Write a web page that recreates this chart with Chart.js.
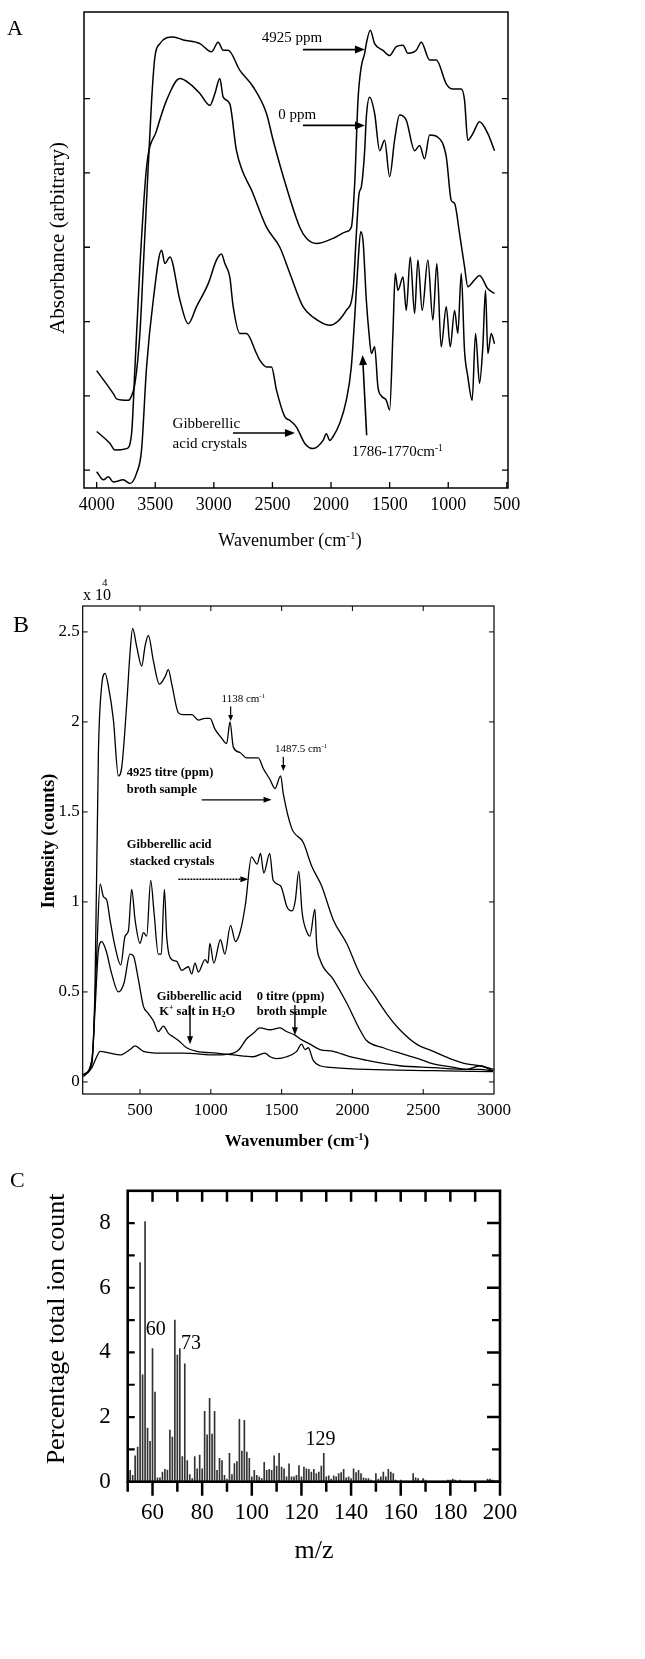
<!DOCTYPE html>
<html>
<head>
<meta charset="utf-8">
<script src="https://cdn.jsdelivr.net/npm/chart.js@4.4.1/dist/chart.umd.min.js"></script>
<style>
  html, body { margin: 0; padding: 0; background: #fff; }
  #page { position: relative; width: 645px; height: 1659px; overflow: hidden; }
  .panel { position: absolute; left: 0; width: 645px; }
</style>
</head>
<body>
<div id="page">
  <div class="panel" style="top:0"><canvas id="chartA" width="645" height="560"></canvas></div>
  <div class="panel" style="top:560px"><canvas id="chartB" width="645" height="600"></canvas></div>
  <div class="panel" style="top:1160px"><canvas id="chartC" width="645" height="499"></canvas></div>
</div>
<script>
const SERIF = '"Liberation Serif", "Times New Roman", Times, serif'
Chart.defaults.font.family = SERIF
Chart.defaults.color = "#000"

// ---- Panel A: IR absorbance ----
const A_X_TICKS = [4000, 3500, 3000, 2500, 2000, 1500, 1000, 500]
const A_Y_TICKS = [0, 1, 2, 3, 4, 5]

const A_WN_4925 = [4000, 3858, 3830, 3730, 3715, 3673, 3631, 3602, 3574, 3531, 3503, 3460, 3347, 3261, 3119, 3020, 2963, 2920, 2878, 2778, 2665, 2551, 2494, 2381, 2267, 2210, 2125, 1983, 1870, 1827, 1798, 1770, 1742, 1713, 1699, 1665, 1628, 1557, 1500, 1443, 1386, 1344, 1273, 1230, 1159, 1102, 1017, 960, 889, 861, 833, 790, 733, 662, 605]
const A_ABS_4925 = [1.34, 1.03, 0.96, 0.94, 0.96, 1.17, 1.84, 2.74, 3.63, 4.98, 5.56, 5.74, 5.83, 5.79, 5.74, 5.63, 5.76, 5.65, 5.65, 5.38, 5.16, 4.80, 4.44, 3.81, 3.27, 3.12, 3.05, 3.12, 3.21, 3.27, 3.86, 4.98, 5.43, 5.61, 5.74, 5.92, 5.74, 5.65, 5.58, 5.70, 5.72, 5.61, 5.65, 5.76, 5.52, 5.52, 5.20, 5.13, 5.13, 4.98, 4.44, 4.53, 4.69, 4.53, 4.30]

const A_WN_0 = [4000, 3886, 3844, 3744, 3702, 3673, 3631, 3574, 3489, 3403, 3290, 3205, 3119, 3034, 2991, 2949, 2920, 2864, 2807, 2665, 2551, 2437, 2352, 2239, 2153, 2011, 1870, 1812, 1784, 1761, 1742, 1713, 1699, 1671, 1628, 1585, 1543, 1500, 1458, 1415, 1358, 1287, 1244, 1202, 1159, 1088, 1017, 974, 946, 903, 861, 833, 776, 733, 662, 605]
const A_ABS_0 = [0.52, 0.36, 0.27, 0.29, 0.49, 1.39, 2.74, 4.08, 4.57, 4.98, 5.27, 5.20, 5.07, 4.91, 5.07, 5.27, 5.02, 4.93, 4.30, 3.72, 3.27, 3.00, 2.65, 2.20, 2.06, 1.95, 2.15, 2.42, 3.18, 3.72, 3.81, 4.30, 4.75, 5.02, 4.80, 4.30, 4.44, 3.95, 4.44, 4.78, 4.71, 4.30, 4.37, 4.19, 4.51, 4.48, 4.22, 3.63, 3.59, 3.18, 2.74, 2.47, 2.56, 2.62, 2.44, 2.38]

const A_WN_GA = [4000, 3943, 3900, 3858, 3773, 3716, 3659, 3617, 3574, 3517, 3446, 3418, 3375, 3290, 3219, 3148, 3048, 2977, 2935, 2906, 2864, 2835, 2778, 2722, 2636, 2608, 2551, 2508, 2466, 2395, 2352, 2295, 2224, 2153, 2068, 2040, 2011, 1983, 1926, 1870, 1827, 1798, 1770, 1747, 1727, 1699, 1676, 1656, 1628, 1600, 1571, 1528, 1500, 1472, 1452, 1429, 1386, 1358, 1324, 1287, 1259, 1222, 1174, 1131, 1097, 1060, 1017, 983, 946, 918, 889, 861, 833, 796, 767, 733, 705, 682, 662, 633, 605]
const A_ABS_GA = [-0.02, -0.13, -0.09, -0.16, -0.13, -0.18, -0.04, 0.27, 1.39, 2.29, 2.96, 2.78, 2.87, 2.29, 1.97, 2.20, 2.51, 2.83, 2.91, 2.78, 2.60, 2.20, 1.84, 1.84, 1.57, 1.48, 1.39, 1.39, 1.08, 0.72, 0.67, 0.58, 0.36, 0.29, 0.40, 0.49, 0.40, 0.45, 0.63, 0.94, 1.39, 2.06, 2.78, 3.21, 3.09, 2.29, 1.84, 1.57, 1.66, 1.12, 1.00, 0.94, 0.81, 1.84, 2.65, 2.42, 2.60, 2.15, 2.87, 2.11, 2.83, 2.15, 2.83, 2.02, 2.78, 1.66, 2.20, 1.66, 2.15, 1.84, 2.65, 1.61, 1.26, 0.94, 1.84, 1.17, 1.66, 2.42, 1.57, 1.84, 1.70]

// ---- Panel B: Raman intensity (x 10^4 counts) ----
const B_X_TICKS = [500, 1000, 1500, 2000, 2500, 3000]
const B_Y_TICKS = [0, 0.5, 1, 1.5, 2, 2.5]

const B_WN_4925 = [100, 159, 182, 206, 229, 253, 276, 312, 347, 371, 406, 429, 448, 476, 512, 535, 559, 594, 636, 676, 700, 724, 771, 806, 865, 912, 959, 994, 1029, 1076, 1112, 1135, 1159, 1206, 1253, 1335, 1371, 1418, 1453, 1493, 1512, 1571, 1653, 1712, 1782, 1865, 1959, 2053, 2147, 2241, 2335, 2453, 2571, 2688, 2806, 2900, 3000]
const B_INT_4925 = [0.04, 0.12, 0.53, 1.83, 2.20, 2.27, 2.20, 2.01, 1.70, 1.75, 2.10, 2.38, 2.52, 2.42, 2.31, 2.42, 2.48, 2.34, 2.21, 2.25, 2.29, 2.21, 2.05, 2.04, 2.04, 2.01, 2.02, 2.02, 1.96, 1.91, 1.88, 2.00, 1.86, 1.83, 1.80, 1.80, 1.74, 1.68, 1.63, 1.70, 1.60, 1.41, 1.33, 1.20, 1.09, 0.90, 0.77, 0.60, 0.49, 0.38, 0.29, 0.21, 0.17, 0.13, 0.10, 0.09, 0.07]

const B_WN_CRYST = [100, 160, 194, 218, 241, 265, 288, 324, 364, 394, 418, 441, 465, 500, 524, 547, 575, 599, 629, 650, 672, 688, 724, 759, 794, 841, 865, 888, 912, 959, 980, 993, 1021, 1068, 1099, 1139, 1174, 1209, 1245, 1287, 1327, 1351, 1374, 1416, 1440, 1492, 1539, 1574, 1597, 1621, 1645, 1680, 1700, 1735, 1747, 1771, 1865, 1959, 2053, 2100, 2218, 2335, 2465, 2571, 2688, 2806, 2900, 2994]
const B_INT_CRYST = [0.04, 0.10, 0.71, 1.10, 1.03, 1.01, 0.90, 0.75, 0.65, 0.81, 0.84, 1.07, 0.90, 0.77, 0.83, 0.81, 1.12, 0.94, 0.71, 0.71, 1.07, 0.81, 0.68, 0.67, 0.62, 0.64, 0.60, 0.66, 0.61, 0.68, 0.66, 0.77, 0.66, 0.79, 0.71, 0.87, 0.78, 0.84, 0.99, 1.25, 1.21, 1.27, 1.16, 1.27, 1.12, 1.09, 0.97, 0.95, 1.01, 1.17, 0.94, 0.83, 0.81, 0.96, 0.77, 0.68, 0.57, 0.44, 0.29, 0.23, 0.19, 0.16, 0.13, 0.10, 0.085, 0.07, 0.09, 0.06]

const B_WN_KSALT = [100, 160, 182, 206, 229, 260, 300, 347, 387, 429, 453, 488, 524, 559, 594, 629, 665, 700, 735, 771, 829, 900, 1041, 1159, 1300, 1382, 1418, 1465, 1535, 1606, 1641, 1665, 1688, 1723, 1771, 1865, 2100, 2571, 2994]
const B_INT_KSALT = [0.04, 0.12, 0.40, 0.73, 0.78, 0.73, 0.60, 0.50, 0.55, 0.71, 0.70, 0.57, 0.42, 0.38, 0.34, 0.28, 0.31, 0.27, 0.25, 0.23, 0.19, 0.17, 0.16, 0.15, 0.14, 0.16, 0.14, 0.13, 0.14, 0.17, 0.21, 0.18, 0.19, 0.12, 0.09, 0.08, 0.07, 0.063, 0.057]

const B_WN_0 = [100, 160, 194, 218, 288, 359, 429, 465, 524, 641, 806, 1041, 1159, 1200, 1253, 1300, 1347, 1418, 1488, 1535, 1594, 1629, 1700, 1771, 1865, 1982, 2100, 2335, 2571, 2806, 2900, 2994]
const B_INT_0 = [0.03, 0.08, 0.14, 0.17, 0.16, 0.15, 0.18, 0.20, 0.17, 0.16, 0.16, 0.15, 0.16, 0.18, 0.24, 0.27, 0.30, 0.29, 0.30, 0.28, 0.26, 0.24, 0.21, 0.18, 0.17, 0.14, 0.12, 0.09, 0.08, 0.07, 0.07, 0.06]

// ---- Panel C: mass spectrum ----
const C_X_TICKS = [60, 80, 100, 120, 140, 160, 180, 200]
const C_X_MINOR = [50, 70, 90, 110, 130, 150, 170, 190]
const C_Y_TICKS = [0, 2, 4, 6, 8]
const C_Y_MINOR = [1, 3, 5, 7]

const C_MZ = [51, 52, 53, 54, 55, 56, 57, 58, 59, 60, 61, 62, 63, 64, 65, 66, 67, 68, 69, 70, 71, 72, 73, 74, 75, 76, 77, 78, 79, 80, 81, 82, 83, 84, 85, 86, 87, 88, 89, 90, 91, 92, 93, 94, 95, 96, 97, 98, 99, 100, 101, 102, 103, 104, 105, 106, 107, 108, 109, 110, 111, 112, 113, 114, 115, 116, 117, 118, 119, 120, 121, 122, 123, 124, 125, 126, 127, 128, 129, 130, 131, 132, 133, 134, 135, 136, 137, 138, 139, 140, 141, 142, 143, 144, 145, 146, 147, 148, 150, 151, 152, 153, 154, 155, 156, 157, 158, 160, 165, 166, 167, 169, 170, 179, 180, 181, 182, 184, 195, 196, 197]
const C_PCT = [0.35, 0.2, 0.8, 1.07, 6.78, 3.31, 8.05, 1.66, 1.25, 4.12, 2.77, 0.12, 0.12, 0.3, 0.38, 0.36, 1.6, 1.38, 5.0, 3.92, 4.12, 0.78, 3.65, 0.65, 0.22, 0.1, 0.78, 0.4, 0.82, 0.4, 2.18, 1.45, 2.58, 1.47, 2.18, 0.35, 0.72, 0.65, 0.2, 0.08, 0.88, 0.22, 0.56, 0.62, 1.93, 0.95, 1.9, 0.92, 0.72, 0.15, 0.35, 0.2, 0.15, 0.1, 0.6, 0.35, 0.38, 0.35, 0.8, 0.48, 0.88, 0.45, 0.4, 0.15, 0.55, 0.15, 0.15, 0.2, 0.5, 0.15, 0.45, 0.4, 0.38, 0.3, 0.38, 0.25, 0.3, 0.48, 0.88, 0.15, 0.18, 0.08, 0.18, 0.15, 0.25, 0.28, 0.38, 0.12, 0.15, 0.1, 0.4, 0.28, 0.35, 0.25, 0.12, 0.1, 0.1, 0.05, 0.25, 0.08, 0.15, 0.3, 0.15, 0.38, 0.3, 0.25, 0.05, 0.05, 0.25, 0.12, 0.1, 0.1, 0.05, 0.05, 0.05, 0.08, 0.05, 0.05, 0.08, 0.08, 0.05]

function pts(xs, ys) {
  return xs.map((x, i) => ({ x, y: ys[i] }))
}

// text with optional superscript / subscript pieces; y is the vertical middle
function rich(ctx, parts, x, y, o) {
  const size = o.size
  const weight = o.bold ? "bold " : ""
  const font = (k) => weight + (k ? size * 0.62 : size) + "px " + SERIF
  let w = 0
  parts.forEach(([t, k]) => { ctx.font = font(k); w += ctx.measureText(t).width })
  ctx.save()
  ctx.translate(x, y)
  if (o.rotate) ctx.rotate(o.rotate)
  ctx.fillStyle = "#000"
  ctx.textAlign = "left"
  ctx.textBaseline = "alphabetic"
  let cx = o.align === "center" ? -w / 2 : o.align === "right" ? -w : 0
  const base = size * 0.32
  parts.forEach(([t, k]) => {
    ctx.font = font(k)
    const dy = k === "sup" ? -size * 0.38 : k === "sub" ? size * 0.2 : 0
    ctx.fillText(t, cx, base + dy)
    cx += ctx.measureText(t).width
  })
  ctx.restore()
}

function arrow(ctx, x1, y1, x2, y2, o) {
  const ang = Math.atan2(y2 - y1, x2 - x1)
  const hl = o.head || 9
  const hw = o.hw || 3.5
  const c = Math.cos(ang), s = Math.sin(ang)
  ctx.save()
  ctx.strokeStyle = "#000"
  ctx.fillStyle = "#000"
  ctx.lineWidth = o.lw || 1.5
  if (o.dash) ctx.setLineDash(o.dash)
  ctx.beginPath()
  ctx.moveTo(x1, y1)
  ctx.lineTo(x2 - c * hl * 0.8, y2 - s * hl * 0.8)
  ctx.stroke()
  ctx.setLineDash([])
  ctx.beginPath()
  ctx.moveTo(x2, y2)
  ctx.lineTo(x2 - hl * c + hw * s, y2 - hl * s - hw * c)
  ctx.lineTo(x2 - hl * c - hw * s, y2 - hl * s + hw * c)
  ctx.closePath()
  ctx.fill()
  ctx.restore()
}

function toPx(chart, x, y) {
  return [chart.scales.x.getPixelForValue(x), chart.scales.y.getPixelForValue(y)]
}

function drawNotes(chart, notes) {
  notes.forEach((n) => {
    const [px, py] = toPx(chart, n.x, n.y)
    rich(chart.ctx, n.parts, px, py, n)
  })
}

function drawArrows(chart, arrows, style) {
  arrows.forEach((a) => {
    const [x1, y1] = toPx(chart, a[0], a[1])
    const [x2, y2] = toPx(chart, a[2], a[3])
    arrow(chart.ctx, x1, y1, x2, y2, Object.assign({}, style, a[4] || {}))
  })
}

function frame(chart, lw) {
  const { ctx, chartArea: a } = chart
  ctx.save()
  ctx.strokeStyle = "#000"
  ctx.lineWidth = lw
  ctx.strokeRect(a.left, a.top, a.right - a.left, a.bottom - a.top)
  ctx.restore()
}

// tick marks on any side of the frame, placed through the chart's scale
function tickMarks(chart, axis, values, side, len, lw) {
  const { ctx, chartArea: a } = chart
  const s = chart.scales[axis]
  ctx.save()
  ctx.strokeStyle = "#000"
  ctx.lineWidth = lw
  ctx.beginPath()
  values.forEach((v) => {
    const p = s.getPixelForValue(v)
    if (side === "left") { ctx.moveTo(a.left, p); ctx.lineTo(a.left + len, p) }
    if (side === "right") { ctx.moveTo(a.right, p); ctx.lineTo(a.right - len, p) }
    if (side === "bottom") { ctx.moveTo(p, a.bottom); ctx.lineTo(p, a.bottom - len) }
    if (side === "top") { ctx.moveTo(p, a.top); ctx.lineTo(p, a.top + len) }
  })
  ctx.stroke()
  ctx.restore()
}

function lineSet(label, xs, ys, width) {
  return {
    label, data: pts(xs, ys), borderColor: "#000", borderWidth: width,
    pointRadius: 0, cubicInterpolationMode: "monotone", fill: false,
  }
}

const plain = (v) => String(v)

const baseOptions = (padding) => ({
  responsive: false,
  animation: false,
  layout: { padding },
  plugins: { legend: { display: false }, tooltip: { enabled: false } },
})

// ---------- Panel A ----------
const A_NOTES = [
  { parts: [["4925 ppm"]], x: 2592, y: 5.83, size: 15 },
  { parts: [["0 ppm"]], x: 2451, y: 4.79, size: 15 },
  { parts: [["Gibberellic"]], x: 3352, y: 0.63, size: 15 },
  { parts: [["acid crystals"]], x: 3352, y: 0.36, size: 15 },
  { parts: [["1786-1770cm"], ["-1", "sup"]], x: 1824, y: 0.25, size: 15 },
]
const A_ARROWS = [
  [2240, 5.66, 1711, 5.66],
  [2240, 4.64, 1711, 4.64],
  [2837, 0.5, 2308, 0.5],
  [1696, 0.47, 1731, 1.55],
]

new Chart(document.getElementById("chartA"), {
  type: "line",
  data: {
    datasets: [
      lineSet("4925 ppm", A_WN_4925, A_ABS_4925, 1.5),
      lineSet("0 ppm", A_WN_0, A_ABS_0, 1.5),
      lineSet("Gibberellic acid crystals", A_WN_GA, A_ABS_GA, 1.5),
    ],
  },
  options: {
    ...baseOptions({ left: 0, top: 12, right: 137, bottom: 0 }),
    scales: {
      x: {
        type: "linear",
        reverse: true,
        min: 490,
        max: 4108,
        afterBuildTicks: (s) => { s.ticks = A_X_TICKS.map((v) => ({ value: v })) },
        afterFit: (s) => { s.height = 72 },
        grid: { display: false, drawTicks: false },
        border: { display: false },
        ticks: { font: { size: 18 }, padding: 6, maxRotation: 0, autoSkip: false, callback: plain },
      },
      y: {
        type: "linear",
        min: -0.24,
        max: 6.166,
        afterBuildTicks: (s) => { s.ticks = A_Y_TICKS.map((v) => ({ value: v })) },
        afterFit: (s) => { s.width = 84 },
        grid: { display: false, drawTicks: false },
        border: { display: false },
        ticks: { display: false },
      },
    },
  },
  plugins: [{
    id: "panelA",
    afterDraw(chart) {
      const { ctx } = chart
      frame(chart, 1.5)
      tickMarks(chart, "y", A_Y_TICKS, "left", 6, 1.3)
      tickMarks(chart, "y", A_Y_TICKS, "right", 6, 1.3)
      tickMarks(chart, "x", A_X_TICKS, "bottom", 6, 1.3)
      drawNotes(chart, A_NOTES)
      drawArrows(chart, A_ARROWS, { head: 10, hw: 4, lw: 1.6 })
      rich(ctx, [["A"]], 7, 28, { size: 22 })
      rich(ctx, [["Wavenumber (cm"], ["-1", "sup"], [")"]], 290, 540, { size: 18, align: "center" })
      rich(ctx, [["Absorbance (arbitrary)"]], 57, 238, { size: 21, align: "center", rotate: -Math.PI / 2 })
    },
  }],
})

// ---------- Panel B ----------
const B_NOTES = [
  { parts: [["1138 cm"], ["-1", "sup"]], x: 1076, y: 2.13, size: 11 },
  { parts: [["1487.5 cm"], ["-1", "sup"]], x: 1453, y: 1.85, size: 11 },
  { parts: [["4925 titre (ppm)"]], x: 406, y: 1.72, size: 12.5, bold: true },
  { parts: [["broth sample"]], x: 406, y: 1.63, size: 12.5, bold: true },
  { parts: [["Gibberellic acid"]], x: 406, y: 1.32, size: 12.5, bold: true },
  { parts: [["stacked crystals"]], x: 429, y: 1.23, size: 12.5, bold: true },
  { parts: [["Gibberellic acid"]], x: 618, y: 0.48, size: 12.5, bold: true },
  { parts: [["K"], ["+", "sup"], [" salt in H"], ["2", "sub"], ["O"]], x: 636, y: 0.396, size: 12.5, bold: true },
  { parts: [["0 titre (ppm)"]], x: 1324, y: 0.48, size: 12.5, bold: true },
  { parts: [["broth sample"]], x: 1324, y: 0.396, size: 12.5, bold: true },
]
const B_ARROWS = [
  [1140, 2.085, 1140, 2.005, { head: 6, hw: 2.5, lw: 1.2 }],
  [1512, 1.807, 1512, 1.728, { head: 6, hw: 2.5, lw: 1.2 }],
  [935, 1.567, 1429, 1.567],
  [771, 1.126, 1265, 1.126, { dash: [2, 1] }],
  [853, 0.428, 853, 0.21],
  [1594, 0.428, 1594, 0.26],
]

new Chart(document.getElementById("chartB"), {
  type: "line",
  data: {
    datasets: [
      lineSet("4925 titre (ppm) broth sample", B_WN_4925, B_INT_4925, 1.3),
      lineSet("Gibberellic acid stacked crystals", B_WN_CRYST, B_INT_CRYST, 1.3),
      lineSet("Gibberellic acid K+ salt in H2O", B_WN_KSALT, B_INT_KSALT, 1.3),
      lineSet("0 titre (ppm) broth sample", B_WN_0, B_INT_0, 1.3),
    ],
  },
  options: {
    ...baseOptions({ left: 0, top: 46, right: 151, bottom: 0 }),
    scales: {
      x: {
        type: "linear",
        min: 95,
        max: 3000,
        afterBuildTicks: (s) => { s.ticks = B_X_TICKS.map((v) => ({ value: v })) },
        afterFit: (s) => { s.height = 66 },
        grid: { display: false, drawTicks: false },
        border: { display: false },
        ticks: { font: { size: 17 }, padding: 6, maxRotation: 0, autoSkip: false, callback: plain },
      },
      y: {
        type: "linear",
        min: -0.067,
        max: 2.644,
        afterBuildTicks: (s) => { s.ticks = B_Y_TICKS.map((v) => ({ value: v })) },
        afterFit: (s) => { s.width = 82.7 },
        grid: { display: false, drawTicks: false },
        border: { display: false },
        ticks: { font: { size: 17 }, padding: 3, callback: plain },
      },
    },
  },
  plugins: [{
    id: "panelB",
    afterDraw(chart) {
      const { ctx } = chart
      frame(chart, 1.2)
      const inner = B_X_TICKS.filter((v) => v < 3000)
      tickMarks(chart, "x", inner, "bottom", 5, 1)
      tickMarks(chart, "x", inner, "top", 5, 1)
      tickMarks(chart, "y", B_Y_TICKS, "left", 5, 1)
      tickMarks(chart, "y", B_Y_TICKS, "right", 5, 1)
      drawNotes(chart, B_NOTES)
      drawArrows(chart, B_ARROWS, { head: 8, hw: 3, lw: 1.4 })
      rich(ctx, [["B"]], 13, 64, { size: 24 })
      rich(ctx, [["x 10"]], 83, 35, { size: 16 })
      rich(ctx, [["4"]], 102, 22, { size: 11 })
      rich(ctx, [["Wavenumber (cm"], ["-1", "sup"], [")"]], 297, 581, { size: 17, align: "center", bold: true })
      rich(ctx, [["Intensity (counts)"]], 48, 281, { size: 18, align: "center", bold: true, rotate: -Math.PI / 2 })
    },
  }],
})

// ---------- Panel C ----------
const C_NOTES = [
  { parts: [["60"]], x: 61.3, y: 4.75, size: 20, align: "center" },
  { parts: [["73"]], x: 75.5, y: 4.3, size: 20, align: "center" },
  { parts: [["129"]], x: 127.7, y: 1.34, size: 20, align: "center" },
]

new Chart(document.getElementById("chartC"), {
  type: "bar",
  data: {
    datasets: [{
      label: "Percentage total ion count",
      data: pts(C_MZ, C_PCT),
      backgroundColor: "#333",
      borderWidth: 0,
      barThickness: 1,
    }],
  },
  options: {
    ...baseOptions({ left: 0, top: 23.3, right: 145, bottom: 0 }),
    scales: {
      x: {
        type: "linear",
        min: 50,
        max: 200,
        offset: false,
        afterBuildTicks: (s) => { s.ticks = C_X_TICKS.map((v) => ({ value: v })) },
        afterFit: (s) => { s.height = 177.3 },
        grid: { display: false, drawTicks: false },
        border: { display: false },
        ticks: { font: { size: 23 }, padding: 17, maxRotation: 0, autoSkip: false, callback: plain },
      },
      y: {
        type: "linear",
        min: 0,
        max: 9,
        afterBuildTicks: (s) => { s.ticks = C_Y_TICKS.map((v) => ({ value: v })) },
        afterFit: (s) => { s.width = 127.7 },
        grid: { display: false, drawTicks: false },
        border: { display: false },
        ticks: { font: { size: 23 }, padding: 17, callback: plain },
      },
    },
  },
  plugins: [{
    id: "panelC",
    afterDraw(chart) {
      const { ctx } = chart
      frame(chart, 2.6)
      tickMarks(chart, "y", [1, 2, 3, 4, 5, 6, 7, 8], "left", 7, 2.2)
      tickMarks(chart, "y", C_Y_TICKS, "right", 13, 2.5)
      tickMarks(chart, "y", C_Y_MINOR, "right", 8, 2.2)
      tickMarks(chart, "x", [...C_X_TICKS, ...C_X_MINOR].filter((v) => v > 50 && v < 200), "top", 11, 2.5)
      tickMarks(chart, "x", C_X_TICKS, "bottom", -14, 2.5)
      tickMarks(chart, "x", C_X_MINOR, "bottom", -10, 2.5)
      drawNotes(chart, C_NOTES)
      rich(ctx, [["C"]], 10, 20, { size: 22 })
      rich(ctx, [["m/z"]], 314, 390, { size: 26, align: "center" })
      rich(ctx, [["Percentage total ion count"]], 56, 169, { size: 26, align: "center", rotate: -Math.PI / 2 })
    },
  }],
})
</script>
</body>
</html>
